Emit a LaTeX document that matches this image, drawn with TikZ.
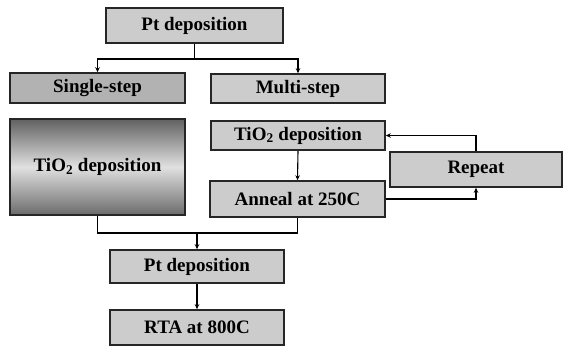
\documentclass[tikz,border=0pt]{standalone}
\usepackage{fontspec}
\setmainfont{Liberation Serif}
\usetikzlibrary{arrows.meta}
\tikzset{
  box/.style={draw=black!85, line width=1.6pt, fill=black!20, inner sep=0pt,
    font=\fontsize{19}{22}\selectfont\bfseries, text=black},
  arr/.style={draw=black, line width=1.1pt, -{Stealth[length=5pt,width=4.5pt]}},
  ln/.style={draw=black, line width=1.1pt}
}
\begin{document}
\begin{tikzpicture}[x=1pt,y=-1pt]
\useasboundingbox[fill=white] (0,0) rectangle (564,349);
\node[box, minimum width=177pt, minimum height=35pt] (pt1) at (194.5,25.5) {Pt deposition};
\node[box, fill=black!30, minimum width=175pt, minimum height=30pt] (single) at (97.5,88) {Single-step};
\node[box, minimum width=174pt, minimum height=29pt] (multi) at (298,88.5) {Multi-step};
\node[box, top color=black!62, bottom color=black!58, middle color=black!12,
      minimum width=175pt, minimum height=96pt] (tios) at (97.5,167) {TiO\textsubscript{2} deposition};
\node[box, minimum width=174pt, minimum height=29pt] (tiom) at (298,135.5) {TiO\textsubscript{2} deposition};
\node[box, minimum width=175pt, minimum height=36pt] (anneal) at (297.5,199) {Anneal at 250C};
\node[box, minimum width=172pt, minimum height=35pt] (repeat) at (476,169.5) {Repeat};
\node[box, minimum width=174pt, minimum height=33pt] (pt2) at (197,266.5) {Pt deposition};
\node[box, minimum width=174pt, minimum height=35pt] (rta) at (197,327.5) {RTA at 800C};

\coordinate (split) at (pt1.south |- 0,59);
\coordinate (merge) at (pt2.north |- 0,233);
\draw[ln] (pt1.south) -- (split);
\draw[arr] (split) -| (single.north);
\draw[arr] (split) -| (multi.north);
\draw[arr] (tiom.south) -- (anneal.north);
\draw[arr] (anneal.east) -| (repeat.south);
\draw[arr] (repeat.north) |- (tiom.east);
\draw[ln] (tios.south) |- (merge);
\draw[ln] (anneal.south) |- (merge);
\draw[arr] (merge) -- (pt2.north);
\draw[arr] (pt2.south) -- (rta.north);
\end{tikzpicture}
\end{document}
